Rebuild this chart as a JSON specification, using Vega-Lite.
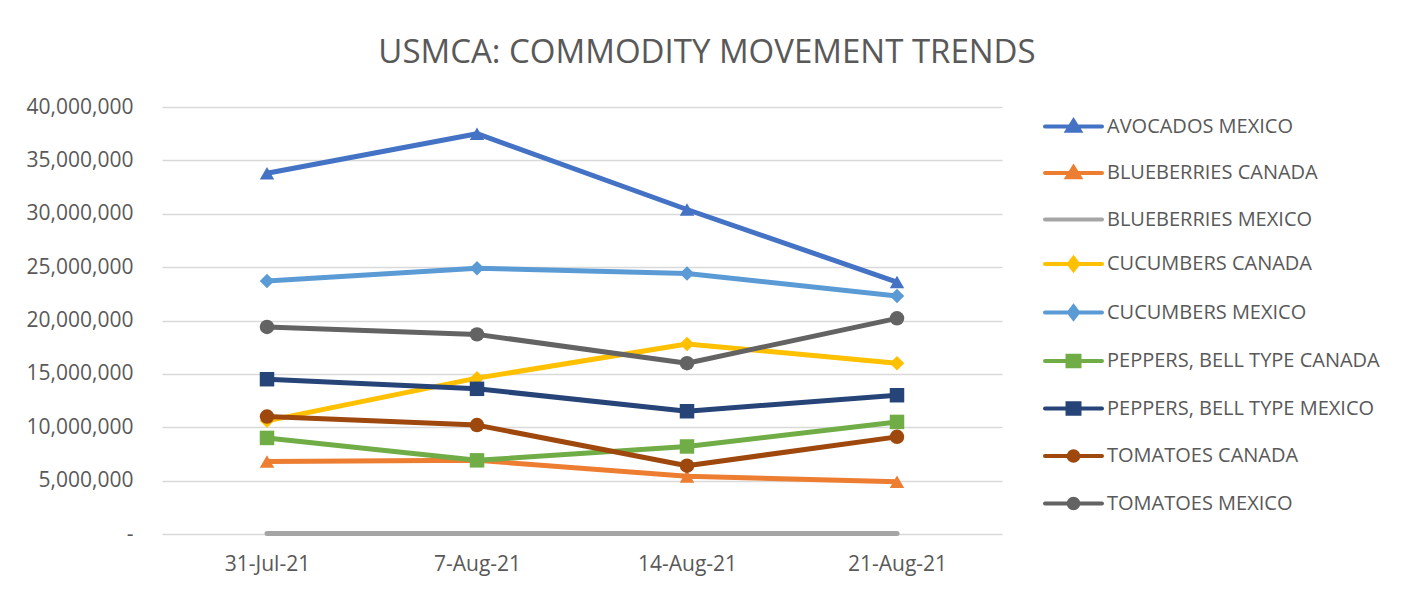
{
  "$schema": "https://vega.github.io/schema/vega-lite/v6.json",
  "autosize": {"type": "none"},
  "width": 840,
  "height": 427,
  "padding": {"left": 162, "top": 107, "right": 414, "bottom": 58},
  "background": "white",
  "title": {
    "text": "USMCA: COMMODITY MOVEMENT TRENDS",
    "fontSize": 33,
    "font": "Open Sans",
    "fontWeight": "normal",
    "color": "#595959",
    "anchor": "middle",
    "frame": "group",
    "dx": 125,
    "offset": 0,
    "baseline": "alphabetic"
  },
  "data": {
    "values": [
      {"date": "31-Jul-21", "series": "AVOCADOS MEXICO", "value": 33800000},
      {"date": "7-Aug-21", "series": "AVOCADOS MEXICO", "value": 37500000},
      {"date": "14-Aug-21", "series": "AVOCADOS MEXICO", "value": 30400000},
      {"date": "21-Aug-21", "series": "AVOCADOS MEXICO", "value": 23600000},
      {"date": "31-Jul-21", "series": "BLUEBERRIES CANADA", "value": 6800000},
      {"date": "7-Aug-21", "series": "BLUEBERRIES CANADA", "value": 6900000},
      {"date": "14-Aug-21", "series": "BLUEBERRIES CANADA", "value": 5400000},
      {"date": "21-Aug-21", "series": "BLUEBERRIES CANADA", "value": 4900000},
      {"date": "31-Jul-21", "series": "BLUEBERRIES MEXICO", "value": 40000},
      {"date": "7-Aug-21", "series": "BLUEBERRIES MEXICO", "value": 40000},
      {"date": "14-Aug-21", "series": "BLUEBERRIES MEXICO", "value": 40000},
      {"date": "21-Aug-21", "series": "BLUEBERRIES MEXICO", "value": 40000},
      {"date": "31-Jul-21", "series": "CUCUMBERS CANADA", "value": 10600000},
      {"date": "7-Aug-21", "series": "CUCUMBERS CANADA", "value": 14600000},
      {"date": "14-Aug-21", "series": "CUCUMBERS CANADA", "value": 17800000},
      {"date": "21-Aug-21", "series": "CUCUMBERS CANADA", "value": 16000000},
      {"date": "31-Jul-21", "series": "CUCUMBERS MEXICO", "value": 23700000},
      {"date": "7-Aug-21", "series": "CUCUMBERS MEXICO", "value": 24900000},
      {"date": "14-Aug-21", "series": "CUCUMBERS MEXICO", "value": 24400000},
      {"date": "21-Aug-21", "series": "CUCUMBERS MEXICO", "value": 22300000},
      {"date": "31-Jul-21", "series": "PEPPERS, BELL TYPE CANADA", "value": 9000000},
      {"date": "7-Aug-21", "series": "PEPPERS, BELL TYPE CANADA", "value": 6900000},
      {"date": "14-Aug-21", "series": "PEPPERS, BELL TYPE CANADA", "value": 8200000},
      {"date": "21-Aug-21", "series": "PEPPERS, BELL TYPE CANADA", "value": 10500000},
      {"date": "31-Jul-21", "series": "PEPPERS, BELL TYPE MEXICO", "value": 14500000},
      {"date": "7-Aug-21", "series": "PEPPERS, BELL TYPE MEXICO", "value": 13600000},
      {"date": "14-Aug-21", "series": "PEPPERS, BELL TYPE MEXICO", "value": 11500000},
      {"date": "21-Aug-21", "series": "PEPPERS, BELL TYPE MEXICO", "value": 13000000},
      {"date": "31-Jul-21", "series": "TOMATOES CANADA", "value": 11000000},
      {"date": "7-Aug-21", "series": "TOMATOES CANADA", "value": 10200000},
      {"date": "14-Aug-21", "series": "TOMATOES CANADA", "value": 6400000},
      {"date": "21-Aug-21", "series": "TOMATOES CANADA", "value": 9100000},
      {"date": "31-Jul-21", "series": "TOMATOES MEXICO", "value": 19400000},
      {"date": "7-Aug-21", "series": "TOMATOES MEXICO", "value": 18700000},
      {"date": "14-Aug-21", "series": "TOMATOES MEXICO", "value": 16000000},
      {"date": "21-Aug-21", "series": "TOMATOES MEXICO", "value": 20200000}
    ]
  },
  "encoding": {
    "x": {
      "field": "date",
      "type": "ordinal",
      "sort": ["31-Jul-21", "7-Aug-21", "14-Aug-21", "21-Aug-21"],
      "scale": {"type": "point", "padding": 0.5},
      "axis": {
        "title": null,
        "labelAngle": 0,
        "domain": false,
        "ticks": false,
        "labelFont": "Open Sans",
        "labelFontSize": 21,
        "labelColor": "#595959",
        "labelPadding": 19
      }
    },
    "y": {
      "field": "value",
      "type": "quantitative",
      "scale": {"domain": [0, 40000000], "nice": false, "zero": true},
      "axis": {
        "title": null,
        "values": [0, 5000000, 10000000, 15000000, 20000000, 25000000, 30000000, 35000000, 40000000],
        "labelExpr": "datum.value === 0 ? '-\u00a0\u00a0\u00a0' : format(datum.value, ',')",
        "domain": false,
        "ticks": false,
        "grid": true,
        "gridColor": "#d9d9d9",
        "gridWidth": 1.5,
        "labelFont": "Open Sans",
        "labelFontSize": 21,
        "labelColor": "#595959",
        "labelPadding": 29
      }
    },
    "color": {
      "field": "series",
      "type": "nominal",
      "scale": {
        "domain": ["AVOCADOS MEXICO", "BLUEBERRIES CANADA", "BLUEBERRIES MEXICO", "CUCUMBERS CANADA", "CUCUMBERS MEXICO", "PEPPERS, BELL TYPE CANADA", "PEPPERS, BELL TYPE MEXICO", "TOMATOES CANADA", "TOMATOES MEXICO"],
        "range": ["#4472C4", "#ED7D31", "#A5A5A5", "#FFC000", "#5B9BD5", "#70AD47", "#264478", "#9E480E", "#636363"]
      }
    }
  },
  "layer": [
    {
      "mark": {"type": "line", "strokeWidth": 5, "strokeCap": "round", "strokeJoin": "round"},
      "encoding": {
        "color": {
          "field": "series",
          "type": "nominal",
          "legend": {
            "title": null,
            "orient": "none",
            "legendX": 881,
            "legendY": -11,
            "symbolSize": 3249,
            "symbolStrokeWidth": 4,
            "labelFont": "Open Sans",
            "labelFontSize": 20,
            "labelColor": "#595959",
            "labelOffset": 3,
            "rowPadding": 3.5,
            "labelLimit": 400,
            "encode": {
              "symbols": {
                "update": {
                  "shape": {"signal": "datum.value === 'BLUEBERRIES MEXICO' ? 'M-1,0L1,0' : (indexof(datum.value,'AVOCADOS')>=0 || datum.value === 'BLUEBERRIES CANADA') ? 'M-1,0L1,0M-0.22,0.15L0,-0.2L0.22,0.15Z' : indexof(datum.value,'CUCUMBERS')>=0 ? 'M-1,0L1,0M0,-0.21L0.16,0L0,0.21L-0.16,0Z' : indexof(datum.value,'PEPPERS')>=0 ? 'M-1,0L1,0M-0.21,-0.18L0.21,-0.18L0.21,0.18L-0.21,0.18Z' : 'M-1,0L1,0M-0.17,0A0.17,0.17,0,1,0,0.17,0A0.17,0.17,0,1,0,-0.17,0Z'"},
                  "fill": {"scale": "color", "field": "value"},
                  "strokeCap": {"value": "round"}
                }
              }
            }
          }
        }
      }
    },
    {
      "transform": [{"filter": "datum.series !== 'BLUEBERRIES MEXICO'"}],
      "mark": {"type": "point", "filled": true, "size": 210, "opacity": 1},
      "encoding": {
        "color": {"field": "series", "type": "nominal", "legend": null},
        "shape": {
          "field": "series",
          "type": "nominal",
          "legend": null,
          "scale": {
            "domain": ["AVOCADOS MEXICO", "BLUEBERRIES CANADA", "CUCUMBERS CANADA", "CUCUMBERS MEXICO", "PEPPERS, BELL TYPE CANADA", "PEPPERS, BELL TYPE MEXICO", "TOMATOES CANADA", "TOMATOES MEXICO"],
            "range": ["triangle-up", "triangle-up", "diamond", "diamond", "square", "square", "circle", "circle"]
          }
        }
      }
    }
  ],
  "resolve": {"scale": {"shape": "independent"}},
  "config": {"view": {"stroke": null}}
}
